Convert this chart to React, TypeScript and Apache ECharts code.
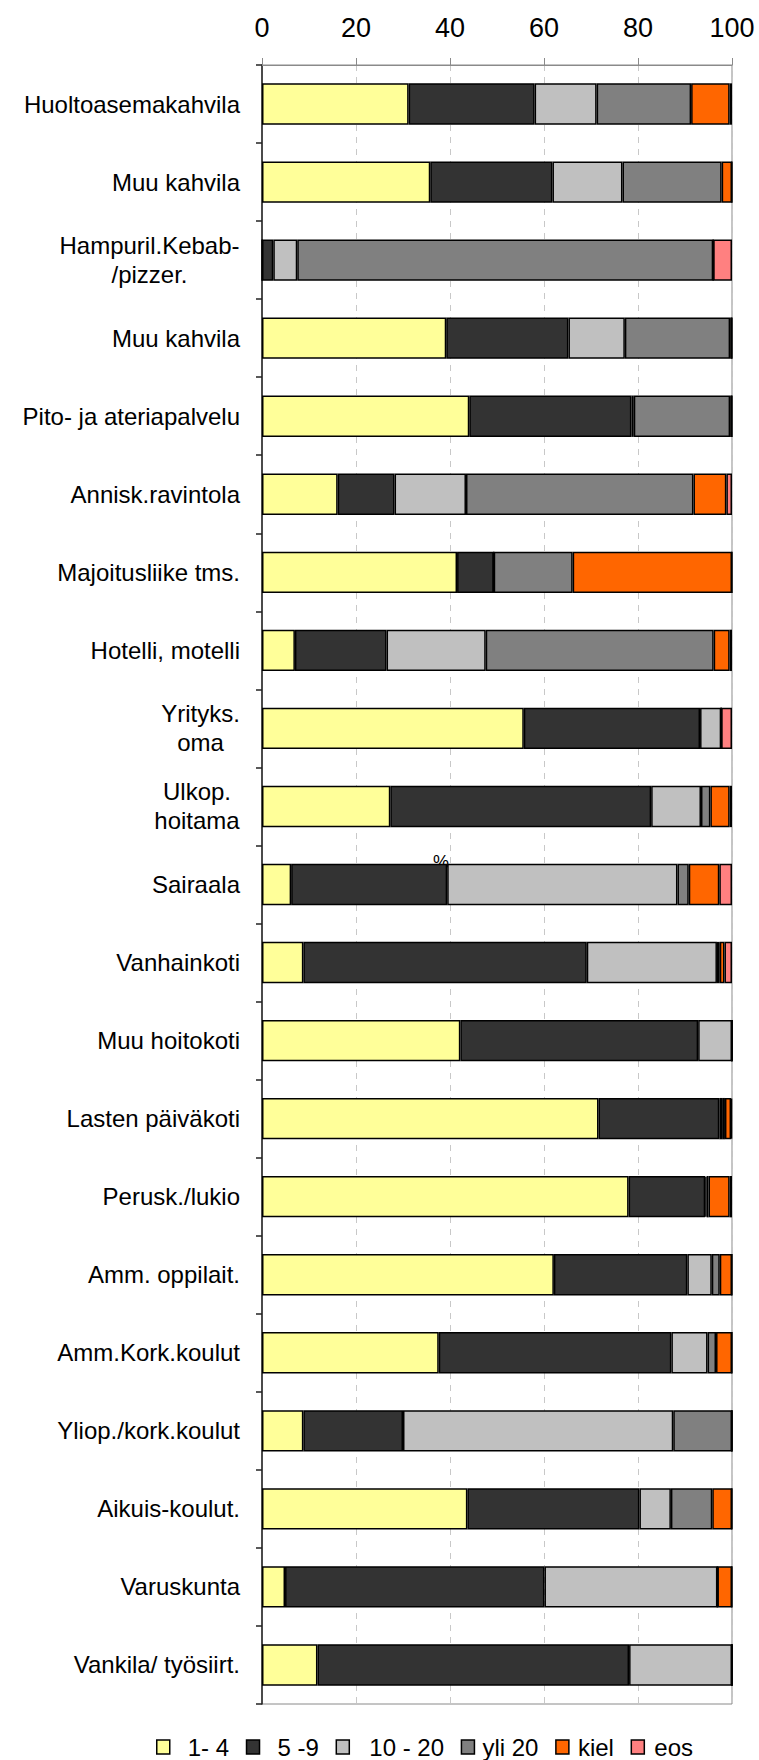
import React, { useEffect, useRef } from "react";
import * as echarts from "echarts";

const categories = [
  "Huoltoasemakahvila",
  "Muu kahvila",
  "Hampuril.Kebab-\n/pizzer.",
  "Muu kahvila",
  "Pito- ja ateriapalvelu",
  "Annisk.ravintola",
  "Majoitusliike tms.",
  "Hotelli, motelli",
  "Yrityks.\noma",
  "Ulkop.\nhoitama",
  "Sairaala",
  "Vanhainkoti",
  "Muu hoitokoti",
  "Lasten päiväkoti",
  "Perusk./lukio",
  "Amm. oppilait.",
  "Amm.Kork.koulut",
  "Yliop./kork.koulut",
  "Aikuis-koulut.",
  "Varuskunta",
  "Vankila/ työsiirt.",
];

const seriesNames = ["1- 4", "5 -9", "10 - 20", "yli 20", "kiel", "eos"];

const v1to4 = [31.2, 35.8, 0, 39.2, 44.1, 16.1, 41.5, 7.0, 55.7, 27.3, 6.2, 8.8, 42.2, 71.6, 78.0, 62.1, 37.6, 8.8, 43.7, 4.9, 11.8];
const v5to9 = [26.8, 26.0, 2.4, 26.0, 34.5, 12.1, 7.8, 19.5, 37.5, 55.5, 33.2, 60.3, 50.6, 25.7, 16.3, 28.4, 49.5, 21.2, 36.6, 55.2, 66.3];
const v10to20 = [13.2, 14.9, 5.1, 12.0, 0.5, 15.2, 0, 21.1, 4.5, 10.6, 49.0, 27.7, 7.2, 0.6, 0.3, 5.2, 7.7, 57.5, 6.7, 36.8, 21.9];
const vYli20 = [20.1, 21.1, 88.5, 22.4, 20.5, 48.4, 16.8, 48.5, 0, 2.0, 2.4, 0.6, 0, 0.6, 0.4, 1.7, 1.8, 12.5, 8.8, 0, 0];
const vKiel = [8.2, 2.2, 0, 0.4, 0.4, 7.0, 33.9, 3.4, 0, 4.1, 6.5, 1.0, 0, 1.3, 4.5, 2.6, 3.4, 0, 4.2, 3.1, 0];
const vEos = [0.5, 0, 4.0, 0, 0, 1.2, 0, 0.5, 2.3, 0.5, 2.7, 1.6, 0, 0.2, 0.5, 0, 0, 0, 0, 0, 0];

const xTicks = [0, 20, 40, 60, 80, 100];

const colors = ["#FFFF99", "#333333", "#C0C0C0", "#808080", "#FF6600", "#FF8080"];

const FONT = "'Liberation Sans', Arial, sans-serif";
const FS = 24;

export default function App() {
  const ref = useRef<HTMLDivElement>(null);
  useEffect(() => {
    document.body.style.margin = "0";
    if (!ref.current) return;
    const chart = echarts.init(ref.current, undefined, { renderer: "svg" });

    // measure multi-line labels so each line can be centred within its block
    const cv = document.createElement("canvas").getContext("2d")!;
    cv.font = `${FS}px ${FONT}`;
    const rich: Record<string, any> = {};
    const labelMap: Record<string, string> = {};
    categories.forEach((c, i) => {
      if (c.includes("\n")) {
        const lines = c.split("\n");
        const w = Math.max(...lines.map((l) => cv.measureText(l).width));
        const key = "m" + i;
        rich[key] = { width: Math.ceil(w), align: "center", fontSize: FS, fontFamily: FONT, color: "#000", lineHeight: 29 };
        labelMap[c] = lines.map((l) => `{${key}|${l}}`).join("\n");
      }
    });

    const data = [v1to4, v5to9, v10to20, vYli20, vKiel, vEos];

    // spacing around each legend text (leading, trailing)
    const legendLead = [13, 13, 15, 3, 4, 5];
    const legendTrail = [4, 13, 7, 9, 6, 0];
    const legendRich: Record<string, any> = {
      t: { fontSize: FS, fontFamily: FONT, color: "#000" },
    };
    seriesNames.forEach((_, i) => {
      legendRich["l" + i] = { width: legendLead[i], fontSize: FS, fontFamily: FONT };
      legendRich["r" + i] = { width: legendTrail[i], fontSize: FS, fontFamily: FONT };
    });

    chart.setOption({
      animation: false,
      backgroundColor: "#fff",
      textStyle: { fontFamily: FONT },
      grid: { left: 262, right: 27, top: 65, bottom: 56, show: true, borderColor: "#8a8a8a", borderWidth: 1 },
      legend: {
        bottom: 1,
        left: 156,
        padding: 0,
        itemWidth: 13,
        itemHeight: 14,
        itemGap: 10,
        icon: "rect",
        textStyle: { fontSize: FS, color: "#000", fontFamily: FONT, rich: legendRich },
        formatter: (name: string) => {
          const i = seriesNames.indexOf(name);
          const lead = legendLead[i] > 0 ? `{l${i}| }` : "";
          const trail = legendTrail[i] > 0 ? `{r${i}| }` : "";
          return `${lead}{t|${name}}${trail}`;
        },
        data: seriesNames.map((n, i) => ({
          name: n,
          itemStyle: { color: colors[i], borderColor: "#000", borderWidth: 1.5 },
        })),
      },
      xAxis: {
        type: "value",
        position: "top",
        min: xTicks[0],
        max: xTicks[xTicks.length - 1],
        interval: xTicks[1] - xTicks[0],
        axisLine: { show: true, lineStyle: { color: "#8a8a8a", width: 1 } },
        axisTick: { show: true, length: 7, lineStyle: { color: "#8a8a8a" } },
        axisLabel: { fontSize: 27, color: "#000", margin: 24, fontFamily: FONT },
        splitLine: { show: true, lineStyle: { type: [6, 6], color: "#c8c8c8", width: 1 } },
      },
      yAxis: {
        type: "category",
        inverse: true,
        data: categories,
        axisLine: { show: true, lineStyle: { color: "#222", width: 1.5 } },
        axisTick: { show: true, length: 6, lineStyle: { color: "#222", width: 1.5 } },
        axisLabel: {
          fontSize: FS,
          color: "#000",
          margin: 22,
          fontFamily: FONT,
          lineHeight: 29,
          rich,
          formatter: (v: string) => labelMap[v] || v,
        },
      },
      graphic: [
        {
          type: "text",
          left: 433,
          top: 853,
          style: { text: "%", fontSize: 18, fill: "#000", fontFamily: FONT },
        },
      ],
      series: seriesNames.map((n, i) => ({
        name: n,
        type: "bar",
        stack: "total",
        barCategoryGap: "47%",
        data: data[i],
        itemStyle: { color: colors[i], borderColor: "#000", borderWidth: 1.5 },
      })),
    });
    return () => chart.dispose();
  }, []);
  return <div ref={ref} style={{ width: 759, height: 1760 }} />;
}
